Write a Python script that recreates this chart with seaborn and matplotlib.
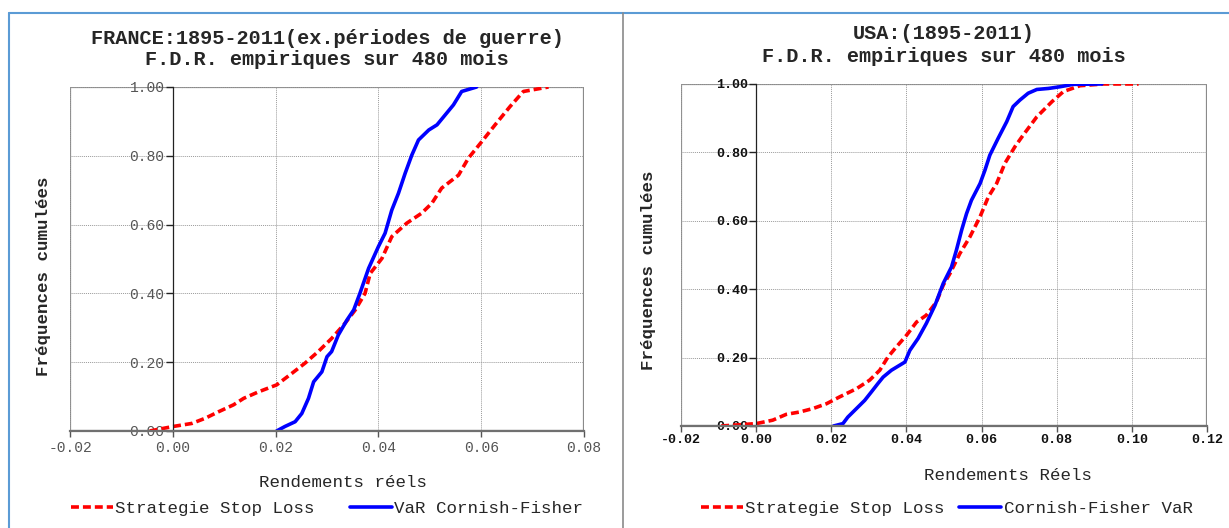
import pandas as pd
import numpy as np
import matplotlib.pyplot as plt
import seaborn as sns
from matplotlib.lines import Line2D
from matplotlib.patches import Rectangle

# France: cumulative frequencies
fr_stop_x = [-0.0045, 0.0000, 0.0037, 0.0063, 0.0089, 0.0118, 0.0138, 0.0167, 0.0202, 0.0232,
             0.0257, 0.0283, 0.0309, 0.0335, 0.0355, 0.0374, 0.0384, 0.0407, 0.0426, 0.0455,
             0.0484, 0.0504, 0.0523, 0.0556, 0.0575, 0.0601, 0.0627, 0.0656, 0.0682, 0.0731]
fr_stop_f = [0.000, 0.013, 0.022, 0.037, 0.056, 0.076, 0.095, 0.114, 0.134, 0.168,
             0.197, 0.231, 0.269, 0.313, 0.352, 0.400, 0.458, 0.502, 0.565, 0.604,
             0.633, 0.662, 0.706, 0.744, 0.793, 0.841, 0.890, 0.943, 0.987, 1.000]
fr_var_x = [0.0202, 0.0218, 0.0238, 0.0251, 0.0264, 0.0274, 0.0290, 0.0300, 0.0309, 0.0322,
            0.0339, 0.0352, 0.0364, 0.0381, 0.0400, 0.0413, 0.0426, 0.0439, 0.0452, 0.0465,
            0.0478, 0.0498, 0.0514, 0.0530, 0.0546, 0.0562, 0.0591]
fr_var_f = [0.000, 0.013, 0.027, 0.051, 0.095, 0.143, 0.172, 0.216, 0.231, 0.279,
            0.323, 0.352, 0.400, 0.473, 0.536, 0.575, 0.642, 0.691, 0.749, 0.802,
            0.846, 0.875, 0.890, 0.919, 0.948, 0.987, 1.000]

# USA
us_stop_x = [-0.0093, 0.0000, 0.0044, 0.0080, 0.0116, 0.0151, 0.0187, 0.0222, 0.0267, 0.0302,
             0.0329, 0.0351, 0.0373, 0.0400, 0.0427, 0.0453, 0.0480, 0.0498, 0.0516, 0.0542,
             0.0569, 0.0596, 0.0618, 0.0640, 0.0662, 0.0689, 0.0711, 0.0747, 0.0787, 0.0818,
             0.0862, 0.0924, 0.1018]
us_stop_f = [0.000, 0.007, 0.017, 0.034, 0.041, 0.051, 0.065, 0.085, 0.109, 0.134,
             0.163, 0.202, 0.231, 0.265, 0.304, 0.324, 0.363, 0.412, 0.446, 0.504,
             0.553, 0.612, 0.670, 0.709, 0.768, 0.817, 0.851, 0.904, 0.948, 0.978,
             0.995, 1.000, 1.000]
us_var_x = [0.0206, 0.0231, 0.0244, 0.0267, 0.0289, 0.0307, 0.0324, 0.0338, 0.0360, 0.0396,
            0.0409, 0.0431, 0.0453, 0.0476, 0.0498, 0.0520, 0.0533, 0.0547, 0.0560, 0.0573,
            0.0596, 0.0609, 0.0622, 0.0644, 0.0667, 0.0684, 0.0702, 0.0724, 0.0747, 0.0778,
            0.0809, 0.0844, 0.0920]
us_var_f = [0.000, 0.007, 0.026, 0.051, 0.075, 0.100, 0.124, 0.143, 0.163, 0.187,
            0.221, 0.256, 0.300, 0.353, 0.417, 0.465, 0.514, 0.573, 0.621, 0.660,
            0.709, 0.748, 0.792, 0.841, 0.890, 0.934, 0.953, 0.973, 0.984, 0.987,
            0.992, 0.999, 1.000]

y_ticks = [0.0, 0.2, 0.4, 0.6, 0.8, 1.0]

sns.set_theme(style="white")
plt.rcParams['font.family'] = ['Liberation Mono', 'DejaVu Sans Mono']

fig = plt.figure(figsize=(12.29, 5.28), dpi=100)

# panel borders
fig.add_artist(Line2D([9/1229, 9/1229], [0, 1 - 13/528], color='#5b9bd5', lw=1.5))
fig.add_artist(Line2D([9/1229, 1], [1 - 13/528, 1 - 13/528], color='#5b9bd5', lw=1.5))
fig.add_artist(Line2D([623/1229, 623/1229], [0, 1 - 13/528], color='#8a8a8a', lw=1.2))


def panel(rect, sx, sf, vx, vf, names, xlim, xticks, title, xlabel, tick_style,
          xlab_pos, ylab_pos, leg_pos, colspace, title_pad, title_ls, xpad):
    ax = fig.add_axes(rect)
    df = pd.DataFrame({
        'x': list(sx) + list(vx),
        'F': list(sf) + list(vf),
        'serie': [names[0]] * len(sx) + [names[1]] * len(vx),
    })
    sns.lineplot(data=df, x='x', y='F', hue='serie', style='serie',
                 palette={names[0]: '#ff0000', names[1]: '#0000ff'},
                 dashes={names[0]: (2.2, 1.1), names[1]: ''},
                 estimator=None, sort=False, lw=2.6, ax=ax)
    ax.set_xlim(*xlim)
    ax.set_ylim(0, 1)
    ax.set_xticks(xticks)
    ax.set_yticks(y_ticks)
    ax.xaxis.set_major_formatter(plt.FormatStrFormatter('%.2f'))
    ax.yaxis.set_major_formatter(plt.FormatStrFormatter('%.2f'))
    ax.grid(True, color='#9a9a9a', lw=0.7, ls=(0, (1, 1)))
    for s in ['top', 'right']:
        ax.spines[s].set_visible(False)
    ax.spines['bottom'].set_color('#707070')
    ax.spines['bottom'].set_linewidth(1.6)
    ax.spines['left'].set_position(('data', 0))
    ax.spines['left'].set_color('#222222')
    ax.spines['left'].set_linewidth(0.9)
    ax.add_patch(Rectangle((0, 0), 1, 1, transform=ax.transAxes, fill=False,
                           edgecolor='#8a8a8a', lw=1.6, zorder=0.5))
    ax.tick_params(axis='x', direction='out', length=4, width=1, color='#555555',
                   bottom=True, pad=xpad, **tick_style)
    ax.tick_params(axis='y', direction='out', length=5, width=1, color='#222222',
                   left=True, pad=1, **tick_style)
    ax.set_title(title, fontsize=14.6, fontweight='bold', linespacing=title_ls, pad=title_pad)
    ax.set_xlabel(xlabel, fontsize=12.6)
    ax.xaxis.set_label_coords(*xlab_pos)
    ax.set_ylabel('Fréquences cumulées', fontsize=12.6, fontweight='bold')
    ax.yaxis.set_label_coords(*ylab_pos)
    sns.move_legend(ax, 'center', bbox_to_anchor=leg_pos, ncol=2, frameon=False,
                    title=None, fontsize=12.6, handlelength=2.4, handletextpad=0.15,
                    columnspacing=colspace)
    for h in ax.get_legend().legend_handles:
        h.set_linewidth(2.6)
    return ax


panel([70/1229, 1 - 431/528, 514/1229, 344/528],
      fr_stop_x, fr_stop_f, fr_var_x, fr_var_f,
      ['Strategie Stop Loss', 'VaR Cornish-Fisher'],
      (-0.02, 0.08), [-0.02, 0.00, 0.02, 0.04, 0.06, 0.08],
      'FRANCE:1895-2011(ex.périodes de guerre)\nF.D.R. empiriques sur 480 mois',
      'Rendements réels',
      dict(labelsize=10.5, labelcolor='#555555'),
      (0.531, -0.127), (-0.037, 0.45), (0.50, -0.226), 2.0, 16, 1.15, 3)

panel([681/1229, 1 - 426/528, 526/1229, 342/528],
      us_stop_x, us_stop_f, us_var_x, us_var_f,
      ['Strategie Stop Loss', 'Cornish-Fisher VaR'],
      (-0.02, 0.12), [-0.02, 0.00, 0.02, 0.04, 0.06, 0.08, 0.10, 0.12],
      'USA:(1895-2011)\nF.D.R. empiriques sur 480 mois',
      'Rendements Réels',
      dict(labelsize=9.6, labelcolor='#111111'),
      (0.622, -0.123), (-0.048, 0.456), (0.505, -0.24), 0.8, 16, 1.25, 1.5)

for ax in fig.axes:
    if ax.get_xlim()[1] > 0.1:
        for lab in ax.get_xticklabels() + ax.get_yticklabels():
            lab.set_fontweight('bold')

fig.savefig('out.png', dpi=100)
